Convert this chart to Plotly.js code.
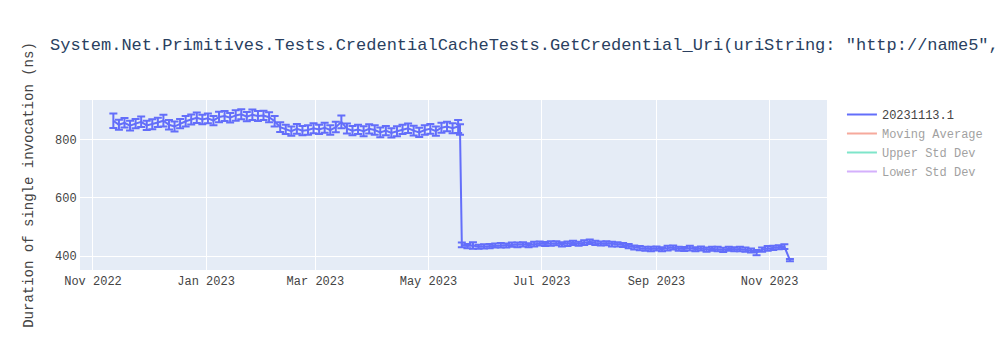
<!DOCTYPE html>
<html>
<head>
<meta charset="utf-8">
<script src="https://cdn.plot.ly/plotly-3.0.1.min.js"></script>
<style>html,body{margin:0;padding:0;background:#fff;}#chart{width:1000px;height:350px;}</style>
</head>
<body>
<div id="chart"></div>
<script>
const chartTitle = 'System.Net.Primitives.Tests.CredentialCacheTests.GetCredential_Uri(uriString: "http://name5",';
const yTitle = 'Duration of single invocation (ns)';
const seriesName = '20231113.1';
const hiddenNames = ['Moving Average', 'Upper Std Dev', 'Lower Std Dev'];

const dates = [
'2022-11-12','2022-11-15','2022-11-18','2022-11-21','2022-11-24','2022-11-27','2022-11-30',
'2022-12-03','2022-12-06','2022-12-09','2022-12-12','2022-12-15','2022-12-18','2022-12-21','2022-12-24','2022-12-27','2022-12-30',
'2023-01-02','2023-01-05','2023-01-08','2023-01-11','2023-01-14','2023-01-17','2023-01-20','2023-01-23','2023-01-26','2023-01-29',
'2023-02-01','2023-02-04','2023-02-07','2023-02-10','2023-02-13','2023-02-16','2023-02-19','2023-02-22','2023-02-25','2023-02-28',
'2023-03-03','2023-03-06','2023-03-09','2023-03-12','2023-03-15','2023-03-18','2023-03-21','2023-03-24','2023-03-27','2023-03-30',
'2023-04-02','2023-04-05','2023-04-08','2023-04-11','2023-04-14','2023-04-17','2023-04-20','2023-04-23','2023-04-26','2023-04-29',
'2023-05-02','2023-05-05','2023-05-08','2023-05-11','2023-05-14','2023-05-17','2023-05-18',
'2023-05-19','2023-05-22','2023-05-25','2023-05-28','2023-05-31',
'2023-06-03','2023-06-06','2023-06-09','2023-06-12','2023-06-15','2023-06-18','2023-06-21','2023-06-24','2023-06-27','2023-06-30',
'2023-07-03','2023-07-06','2023-07-09','2023-07-12','2023-07-15','2023-07-18','2023-07-21','2023-07-24','2023-07-27','2023-07-30',
'2023-08-02','2023-08-05','2023-08-08','2023-08-11','2023-08-14','2023-08-17','2023-08-20','2023-08-23','2023-08-26','2023-08-29',
'2023-09-01','2023-09-04','2023-09-07','2023-09-10','2023-09-13','2023-09-16','2023-09-19','2023-09-22','2023-09-25','2023-09-28',
'2023-10-01','2023-10-04','2023-10-07','2023-10-10','2023-10-13','2023-10-16','2023-10-19','2023-10-22','2023-10-25','2023-10-28',
'2023-10-31','2023-11-03','2023-11-06','2023-11-09','2023-11-12'
];

const durations = [
864,850,857,847,854,860,848,
852,858,864,850,844,854,862,868,874,868,
872,864,877,880,874,882,886,878,884,880,
882,876,862,842,834,828,836,830,832,838,
834,840,832,842,860,837,830,834,828,836,
832,824,830,822,828,834,838,830,824,832,
836,828,840,844,838,844,834,
438,434,436,432,433,
434,436,437,436,439,438,440,437,441,443,
441,443,444,440,442,445,442,446,449,445,
443,444,441,440,438,434,429,427,425,424,
426,423,427,429,425,424,427,423,426,422,
425,424,421,425,423,424,422,419,412,422,
426,428,430,432,386
];

const errors = [
25,17,16,17,16,18,16,
17,16,20,16,17,16,18,17,18,16,
17,16,18,17,16,18,17,16,18,17,
16,17,18,17,16,16,17,16,16,17,
16,17,16,18,22,17,16,16,17,16,
16,17,16,16,17,16,16,17,16,16,
17,16,17,16,17,22,18,
8,7,11,7,7,
7,7,8,7,7,8,7,7,8,7,
7,8,7,7,8,7,7,8,8,7,
7,7,8,7,7,7,7,7,7,8,
7,7,8,7,7,7,8,7,7,7,
7,8,7,7,7,8,7,7,9,7,
8,7,7,8,4
];

const data = [
  {
    x: dates, y: durations, type: 'scatter', mode: 'lines', name: seriesName,
    line: {color: '#636efa', width: 2},
    error_y: {type: 'data', array: errors, visible: true, color: '#636efa', thickness: 2, width: 4}
  },
  {x: dates, y: durations, type: 'scatter', mode: 'lines', name: hiddenNames[0], visible: 'legendonly', line: {color: '#EF553B'}},
  {x: dates, y: durations, type: 'scatter', mode: 'lines', name: hiddenNames[1], visible: 'legendonly', line: {color: '#00cc96'}},
  {x: dates, y: durations, type: 'scatter', mode: 'lines', name: hiddenNames[2], visible: 'legendonly', line: {color: '#ab63fa'}}
];

const layout = {
  width: 1000, height: 350,
  font: {family: '"Courier New", monospace', color: '#2a3f5f'},
  title: {text: chartTitle, x: 0.05},
  xaxis: {type: 'date', range: ['2022-10-25', '2023-12-02'], gridcolor: '#fff', linecolor: '#fff', zerolinecolor: '#fff', tickfont: {color: '#444'}},
  yaxis: {title: {text: yTitle, font: {color: '#444'}, standoff: 18}, range: [352, 935], dtick: 200, tick0: 0,
          gridcolor: '#fff', linecolor: '#fff', zerolinecolor: '#fff', tickfont: {color: '#444'}},
  plot_bgcolor: '#E5ECF6',
  paper_bgcolor: '#fff',
  legend: {font: {color: '#444'}}
};

Plotly.newPlot('chart', data, layout, {displayModeBar: false});
</script>
</body>
</html>
